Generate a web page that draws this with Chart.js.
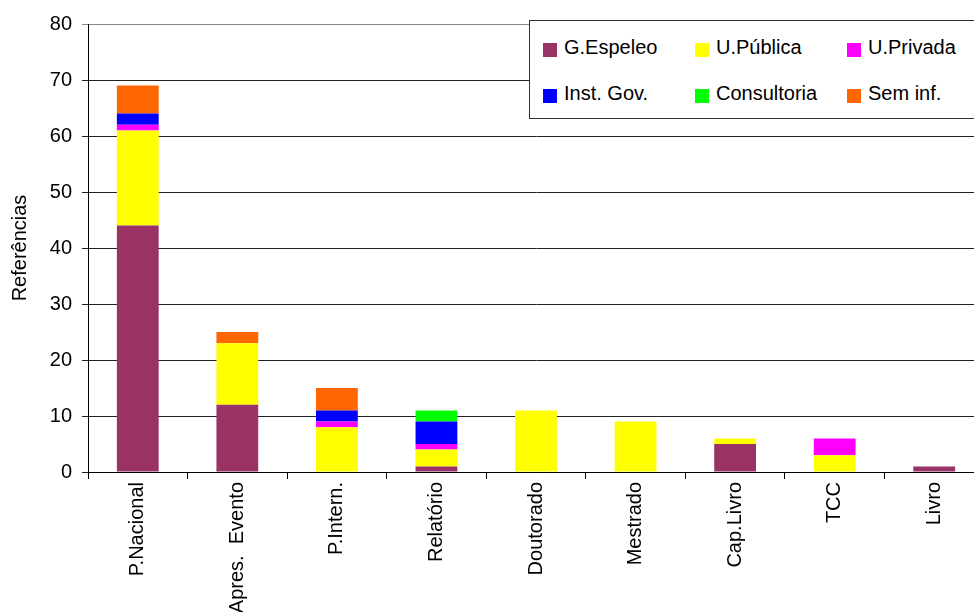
<!DOCTYPE html>
<html>
<head>
<meta charset="utf-8">
<script src="https://cdn.jsdelivr.net/npm/chart.js@4/dist/chart.umd.min.js"></script>
<style>
  html, body { margin: 0; padding: 0; background: #fff; overflow: hidden; }
  #wrap { position: relative; width: 974px; height: 612px; overflow: hidden; }
  #chart { position: absolute; left: 0; top: 0; }
  #legend {
    position: absolute; left: 529px; top: 20px; width: 470px; height: 97px;
    border: 1px solid #333; background: #fff;
    font-family: "Liberation Sans", Arial, sans-serif; font-size: 20px; color: #000;
  }
  .item { position: absolute; white-space: nowrap; line-height: 20px; }
  .item span.box { position: absolute; left: 0; top: 6px; width: 14px; height: 14px; }
  .item span.txt { position: absolute; left: 21px; top: 0; }
</style>
</head>
<body>
<div id="wrap">
  <canvas id="chart" width="988" height="612"></canvas>
  <div id="legend"></div>
</div>
<script>
const categories = ['P.Nacional', 'Apres.  Evento', 'P.Intern.', 'Relatório', 'Doutorado', 'Mestrado', 'Cap.Livro', 'TCC', 'Livro'];

const seriesNames = ['G.Espeleo', 'U.Pública', 'U.Privada', 'Inst. Gov.', 'Consultoria', 'Sem inf.'];
const seriesColors = ['#993366', '#ffff00', '#ff00ff', '#0000ff', '#00ff00', '#ff6600'];

const gEspeleo    = [44, 12, 0, 1,  0, 0, 5, 0, 1];
const uPublica    = [17, 11, 8, 3, 11, 9, 1, 3, 0];
const uPrivada    = [ 1,  0, 1, 1,  0, 0, 0, 3, 0];
const instGov     = [ 2,  0, 2, 4,  0, 0, 0, 0, 0];
const consultoria = [ 0,  0, 0, 2,  0, 0, 0, 0, 0];
const semInf      = [ 5,  2, 4, 0,  0, 0, 0, 0, 0];

const yTicks = [0, 10, 20, 30, 40, 50, 60, 70, 80];

const seriesValues = [gEspeleo, uPublica, uPrivada, instGov, consultoria, semInf];

const family = '"Liberation Sans", Arial, sans-serif';

new Chart(document.getElementById('chart').getContext('2d'), {
  type: 'bar',
  data: {
    labels: categories,
    datasets: seriesNames.map((name, i) => ({
      label: name,
      data: seriesValues[i],
      backgroundColor: seriesColors[i],
      borderWidth: 0,
      barPercentage: 0.42,
      categoryPercentage: 1
    }))
  },
  options: {
    responsive: false,
    animation: false,
    layout: { padding: { top: 24, right: 4, left: 0, bottom: 0 } },
    plugins: { legend: { display: false }, tooltip: { enabled: false } },
    scales: {
      x: {
        stacked: true,
        afterFit: s => { s.height = 140; },
        grid: { offset: true, drawOnChartArea: false, tickLength: 7, color: '#000', lineWidth: 1 },
        border: { color: '#000', width: 1 },
        ticks: { color: '#000', font: { family: family, size: 20 }, minRotation: 90, maxRotation: 90, autoSkip: false, padding: 3 }
      },
      y: {
        stacked: true,
        min: 0,
        max: 80,
        afterFit: s => { s.width = 88; },
        afterBuildTicks: s => { s.ticks = yTicks.map(v => ({ value: v })); },
        grid: { color: ctx => ctx.tick && ctx.tick.value === 80 ? '#888' : '#222', tickLength: 6, lineWidth: 1 },
        border: { color: '#000', width: 1 },
        ticks: { color: '#000', font: { family: family, size: 20 }, padding: 10 },
        title: { display: true, text: 'Referências', color: '#000', font: { family: family, size: 20 }, padding: { top: 8, bottom: 0 } }
      }
    }
  }
});

// legend box, three columns by two rows
const legend = document.getElementById('legend');
const colX = [13, 165, 317];
const rowY = [16, 62];
seriesNames.forEach((name, i) => {
  const el = document.createElement('div');
  el.className = 'item';
  el.style.left = colX[i % 3] + 'px';
  el.style.top = rowY[Math.floor(i / 3)] + 'px';
  el.innerHTML = '<span class="box" style="background:' + seriesColors[i] + '"></span><span class="txt">' + name + '</span>';
  legend.appendChild(el);
});
</script>
</body>
</html>
